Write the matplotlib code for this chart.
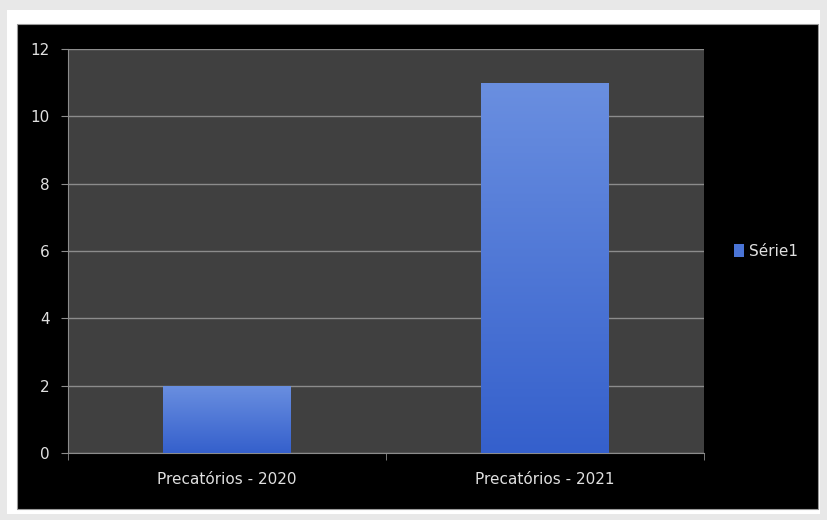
import numpy as np
import matplotlib.pyplot as plt
from matplotlib.patches import Rectangle
from matplotlib.colors import LinearSegmentedColormap

# Data
categorias = ['Precatórios - 2020', 'Precatórios - 2021']
valores = [2, 11]
serie = 'Série1'

plt.rcParams['font.family'] = ['DejaVu Sans']

fig = plt.figure(figsize=(8.27, 5.20), dpi=100)
fig.patch.set_facecolor('#e8e8e8')

# white frame + black chart area
fig.add_artist(Rectangle((7 / 827, 1 - 514 / 520), 813 / 827, 504 / 520,
                         transform=fig.transFigure, facecolor='white', edgecolor='none', zorder=0))
fig.add_artist(Rectangle((17 / 827, 1 - 509 / 520), 801 / 827, 485 / 520,
                         transform=fig.transFigure, facecolor='black', edgecolor='#9a9a9a',
                         linewidth=0.8, zorder=0))

ax = fig.add_axes([68 / 827, 1 - 453 / 520, 636 / 827, 404 / 520])
ax.set_facecolor('#404040')

x = np.arange(len(categorias))
bars = ax.bar(x, valores, width=0.4, color='#4a74d6', zorder=2, label=serie)

# gradiente nas barras
cmap = LinearSegmentedColormap.from_list('azul', ['#3560cc', '#6a8fe0'])
grad = np.linspace(0, 1, 256).reshape(-1, 1)
for b in bars:
    x0, y0 = b.get_x(), b.get_y()
    w, h = b.get_width(), b.get_height()
    im = ax.imshow(grad, cmap=cmap, aspect='auto', origin='lower',
                   extent=(x0, x0 + w, y0, y0 + h), zorder=3)
    im.set_clip_path(b)

ax.set_xlim(-0.5, 1.5)
ax.set_ylim(0, 12)
ax.set_yticks(range(0, 13, 2))
ax.set_xticks(x)
ax.set_xticklabels(categorias)
ax.grid(axis='y', color='#8c8c8c', linewidth=1, zorder=1)
ax.set_axisbelow(True)

for s in ['top', 'right']:
    ax.spines[s].set_visible(False)
ax.spines['left'].set_color('#8c8c8c')
ax.spines['bottom'].set_color('#8c8c8c')
ax.tick_params(axis='y', colors='#8c8c8c', labelcolor='#e0e0e0', labelsize=11,
               length=5, pad=8)
ax.tick_params(axis='x', colors='#8c8c8c', labelcolor='#e0e0e0', labelsize=11,
               length=0, pad=14)

# ticks nos limites das categorias
ax.set_xticks([-0.5, 0.5, 1.5], minor=True)
ax.tick_params(axis='x', which='minor', length=5, colors='#8c8c8c')

leg = ax.legend(loc='center left', bbox_to_anchor=(1.025, 0.5), frameon=False,
                handlelength=0.7, handleheight=0.9, handletextpad=0.3,
                fontsize=11, labelcolor='#e0e0e0')

fig.savefig('out.png', dpi=100, facecolor=fig.get_facecolor())
